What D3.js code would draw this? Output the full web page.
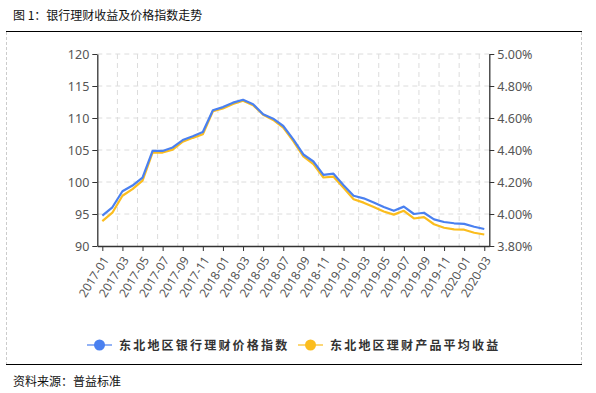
<!DOCTYPE html>
<html><head><meta charset="utf-8">
<script src="https://cdn.jsdelivr.net/npm/d3@7"></script>
<style>body{margin:0;background:#fff}svg{display:block}</style>
</head><body>
<svg id="c" width="596" height="393"></svg>
<script>
const categories = ["2017-01","2017-02","2017-03","2017-04","2017-05","2017-06","2017-07","2017-08","2017-09","2017-10","2017-11","2017-12",
"2018-01","2018-02","2018-03","2018-04","2018-05","2018-06","2018-07","2018-08","2018-09","2018-10","2018-11","2018-12",
"2019-01","2019-02","2019-03","2019-04","2019-05","2019-06","2019-07","2019-08","2019-09","2019-10","2019-11","2019-12",
"2020-01","2020-02","2020-03"];
const priceIndex = [94.75,96.05,98.55,99.45,100.7,104.85,104.85,105.4,106.55,107.15,107.8,111.2,
111.7,112.4,112.85,112.15,110.6,109.9,108.75,106.65,104.3,103.2,101.1,101.3,
99.5,97.85,97.45,96.8,96.1,95.5,96.15,95.0,95.2,94.15,93.75,93.55,93.45,93.0,92.65];
const avgYield = [3.956,4.008,4.114,4.156,4.208,4.384,4.384,4.402,4.452,4.476,4.498,4.642,
4.66,4.688,4.708,4.68,4.62,4.588,4.54,4.456,4.36,4.312,4.228,4.233,
4.164,4.092,4.071,4.044,4.016,3.996,4.02,3.972,3.98,3.936,3.914,3.904,3.902,3.883,3.872];
const leftTicks = [90,95,100,105,110,115,120];
const rightTicks = [3.8,4.0,4.2,4.4,4.6,4.8,5.0];
const seriesNames = ["东北地区银行理财价格指数","东北地区理财产品平均收益"];
const title = "图 1：银行理财收益及价格指数走势";
const source = "资料来源：普益标准";

const colors = ["#4a80f0","#fbbd1e"];
const svg = d3.select("#c");
const L = 97.3, R = 489.3, T = 54, B = 246;
const x = d3.scalePoint().domain(categories).range([L, R]).padding(0.5);
const step = x.step();
const yL = d3.scaleLinear().domain([90,120]).range([B,T]);
const yR = d3.scaleLinear().domain([3.8,5.0]).range([B,T]);

// frame
svg.append("text").attr("x",13).attr("y",20).attr("font-family","'Noto Sans CJK SC'").attr("font-size",12).attr("fill","#111").text(title);
svg.append("line").attr("x1",6).attr("x2",582).attr("y1",31.5).attr("y2",31.5).attr("stroke","#000").attr("stroke-width",1.2);
svg.append("line").attr("x1",6).attr("x2",582).attr("y1",364.5).attr("y2",364.5).attr("stroke","#000").attr("stroke-width",1.2);
[6.5,581.5].forEach(xx=>svg.append("line").attr("x1",xx).attr("x2",xx).attr("y1",32).attr("y2",364).attr("stroke","#ccc").attr("stroke-dasharray","3,2"));
svg.append("text").attr("x",13).attr("y",386).attr("font-family","'Noto Sans CJK SC'").attr("font-size",12).attr("fill","#111").text(source);

// grid
const g = svg.append("g");
leftTicks.slice(1).forEach(t=>g.append("line").attr("x1",L).attr("x2",R).attr("y1",yL(t)).attr("y2",yL(t)).attr("stroke","#dcdcdc").attr("stroke-dasharray","5,4"));
categories.forEach((c,i)=>{ if(i>0 && i%2===0){ const xx = x(c)-step/2;
  g.append("line").attr("x1",xx).attr("x2",xx).attr("y1",T).attr("y2",B).attr("stroke","#dcdcdc").attr("stroke-dasharray","5,4"); }});

// axes
const font = "'Noto Sans', sans-serif";
const ax = svg.append("g").attr("transform",`translate(${L},0)`).call(d3.axisLeft(yL).tickValues(leftTicks).tickSize(5).tickSizeOuter(0).tickPadding(3));
const ar = svg.append("g").attr("transform",`translate(${R},0)`).call(d3.axisRight(yR).tickValues(rightTicks).tickSize(5).tickSizeOuter(0).tickPadding(3).tickFormat(d=>d.toFixed(2)+"%"));
const ab = svg.append("g").attr("transform",`translate(0,${B})`).call(d3.axisBottom(x).tickValues(categories.filter((c,i)=>i%2===0)).tickSize(5).tickSizeOuter(0).tickPadding(2));
[ax,ar,ab].forEach(a=>{a.select(".domain").attr("stroke","#333").attr("stroke-width",1.3);
  a.selectAll(".tick line").attr("stroke","#333");
  a.selectAll("text").attr("font-family",font).attr("font-size",12.5).attr("fill","#555");});
ab.selectAll("text").attr("text-anchor","end").attr("dy","0.35em").attr("transform","translate(-3,8) rotate(-58)").attr("font-size",12);

// lines
const lineL = d3.line().x((d,i)=>x(categories[i])).y(d=>yL(d));
const lineR = d3.line().x((d,i)=>x(categories[i])).y(d=>yR(d));
svg.append("path").datum(avgYield).attr("d",lineR).attr("fill","none").attr("stroke",colors[1]).attr("stroke-width",2.2).attr("stroke-linejoin","round");
svg.append("path").datum(priceIndex).attr("d",lineL).attr("fill","none").attr("stroke",colors[0]).attr("stroke-width",2.2).attr("stroke-linejoin","round");

// legend
const lx = [87, 298];
seriesNames.forEach((n,i)=>{
  const lg = svg.append("g").attr("transform",`translate(${lx[i]},345)`);
  lg.append("line").attr("x1",0).attr("x2",25).attr("y1",0).attr("y2",0).attr("stroke",colors[i]).attr("stroke-width",2).attr("opacity",0.6);
  lg.append("circle").attr("cx",12.5).attr("cy",0).attr("r",5.5).attr("fill",colors[i]);
  lg.append("text").attr("x",32).attr("y",4.5).attr("font-family","'Noto Sans CJK SC'").attr("font-weight","bold").attr("font-size",12).attr("letter-spacing","2.2px").attr("fill","#333").text(n);
});
</script>
</body></html>
